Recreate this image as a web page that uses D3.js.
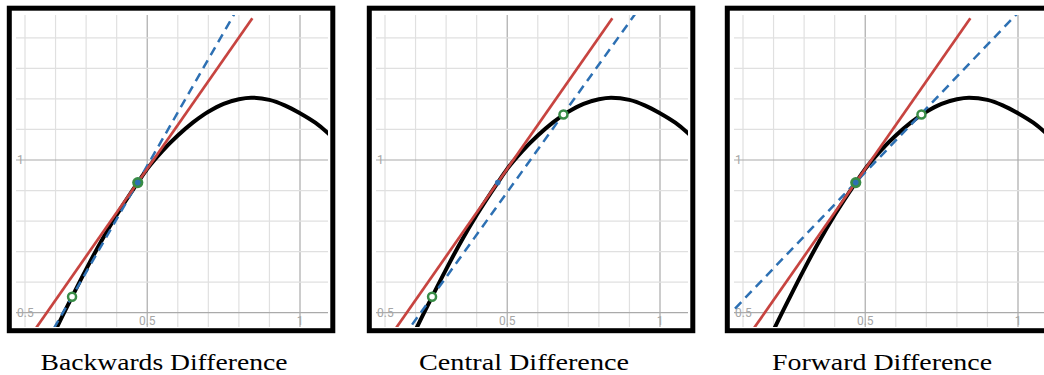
<!DOCTYPE html>
<html>
<head>
<meta charset="utf-8">
<script src="https://cdn.jsdelivr.net/npm/d3@7"></script>
<style>
  body { margin: 0; background: #fff; }
  svg { display: block; }
</style>
</head>
<body>
<svg></svg>
<script>
var width = 1044, height = 375;

// curve (x, y)
var curveX = [0.18, 0.203, 0.254, 0.30, 0.35, 0.40, 0.469, 0.50, 0.55, 0.60, 0.65, 0.684, 0.70, 0.75, 0.80, 0.84, 0.90, 0.95, 1.00, 1.05, 1.093, 1.12];
var curveY = [0.40, 0.449, 0.552, 0.642, 0.735, 0.820, 0.926, 0.971, 1.030, 1.080, 1.123, 1.148, 1.158, 1.184, 1.199, 1.204, 1.197, 1.179, 1.153, 1.122, 1.087, 1.062];

// sample points
var backPt = [0.254, 0.552], basePt = [0.469, 0.926], fwdPt = [0.684, 1.149];

// tangent segment (red) and secant lines (blue dashed), end points
var tangent = [[0.10, 0.398], [0.844, 1.464]];
var secants = [
  [[0.17, 0.406], [0.785, 1.478]],   // backwards
  [[0.16, 0.421], [0.918, 1.477]],   // central
  [[0.04, 0.478], [0.995, 1.477]]    // forward
];

var titles = ["Backwards Difference", "Central Difference", "Forward Difference"];
var titleWidths = [247, 210, 220];
var gridX = d3.range(1, 11).map(function(d) { return d / 10; });
var gridY = d3.range(5, 15).map(function(d) { return d / 10; });
var xTickLabels = [0.5, 1], yTickLabels = [0.5, 1];

var panelX = [0, 360, 718];
var inner = {left: 16, top: 15, right: 328, bottom: 327};

var x = d3.scaleLinear().domain([0.1, 1.0]).range([25, 300]);
var y = d3.scaleLinear().domain([0.5, 1.0]).range([312.7, 160]);

var red = "#c74440", blue = "#2d70b3", green = "#388c46";

var svg = d3.select("svg").attr("width", width).attr("height", height);

svg.append("defs").append("clipPath").attr("id", "plotclip")
  .append("rect")
  .attr("x", inner.left).attr("y", inner.top)
  .attr("width", inner.right - inner.left)
  .attr("height", inner.bottom - inner.top);

var line = d3.line().x(function(d) { return x(d[0]); }).y(function(d) { return y(d[1]); });
var curvePts = curveX.map(function(v, i) { return [v, curveY[i]]; });

function isMajor(v) { return Math.abs(v * 2 - Math.round(v * 2)) < 1e-6; }

panelX.forEach(function(px, i) {
  var g = svg.append("g").attr("transform", "translate(" + px + ",0)");

  // grid
  var grid = g.append("g");
  grid.selectAll(".gx").data(gridX).enter().append("line")
    .attr("x1", function(d) { return x(d); }).attr("x2", function(d) { return x(d); })
    .attr("y1", inner.top).attr("y2", inner.bottom)
    .style("stroke", function(d) { return isMajor(d) ? "#aaaaaa" : "#e0e0e0"; })
    .style("stroke-width", 1.2);
  grid.selectAll(".gy").data(gridY).enter().append("line")
    .attr("y1", function(d) { return y(d); }).attr("y2", function(d) { return y(d); })
    .attr("x1", inner.left).attr("x2", inner.right)
    .style("stroke", function(d) { return isMajor(d) ? "#aaaaaa" : "#e0e0e0"; })
    .style("stroke-width", 1.2);

  // tick labels
  g.selectAll(".xl").data(xTickLabels).enter().append("text")
    .attr("x", function(d) { return x(d); }).attr("y", 325)
    .attr("text-anchor", "middle")
    .style("font-family", "Roboto, 'Open Sans', sans-serif").style("font-size", "12px")
    .style("fill", "#a6a6a6")
    .text(function(d) { return d; });
  g.selectAll(".yl").data(yTickLabels).enter().append("text")
    .attr("x", 17).attr("y", function(d) { return y(d) + 4; })
    .style("font-family", "Roboto, 'Open Sans', sans-serif").style("font-size", "12px")
    .style("fill", "#a6a6a6")
    .text(function(d) { return d; });

  var plot = g.append("g").attr("clip-path", "url(#plotclip)");

  plot.append("path").datum(curvePts)
    .attr("d", line.curve(d3.curveMonotoneX))
    .style("fill", "none").style("stroke", "#000").style("stroke-width", 4);

  plot.append("path").datum(secants[i])
    .attr("d", line.curve(d3.curveLinear))
    .style("fill", "none").style("stroke", blue).style("stroke-width", 2.5)
    .style("stroke-dasharray", "9,6");

  plot.append("path").datum(tangent)
    .attr("d", line.curve(d3.curveLinear))
    .style("fill", "none").style("stroke", red).style("stroke-width", 2.7);

  // points
  var open = i === 0 ? [backPt] : i === 1 ? [backPt, fwdPt] : [fwdPt];
  plot.selectAll(".op").data(open).enter().append("circle")
    .attr("cx", function(d) { return x(d[0]); }).attr("cy", function(d) { return y(d[1]); })
    .attr("r", 4)
    .style("fill", "#fff").style("stroke", green).style("stroke-width", 2.5);

  if (i !== 1) {
    plot.append("circle").attr("cx", x(basePt[0])).attr("cy", y(basePt[1]))
      .attr("r", 5.6).style("fill", green);
  }
  plot.append("circle").attr("cx", x(basePt[0])).attr("cy", y(basePt[1]))
    .attr("r", 2.8).style("fill", blue);

  // frame
  g.append("rect")
    .attr("x", 9.3).attr("y", 8.2).attr("width", 323.5).attr("height", 322.5)
    .style("fill", "none").style("stroke", "#000").style("stroke-width", 5);

  // caption
  g.append("text")
    .attr("x", 164).attr("y", 370)
    .attr("text-anchor", "middle")
    .attr("textLength", titleWidths[i]).attr("lengthAdjust", "spacingAndGlyphs")
    .style("font-family", "'Liberation Serif', 'DejaVu Serif', serif").style("font-size", "23px")
    .style("fill", "#000")
    .text(titles[i]);
});
</script>
</body>
</html>
